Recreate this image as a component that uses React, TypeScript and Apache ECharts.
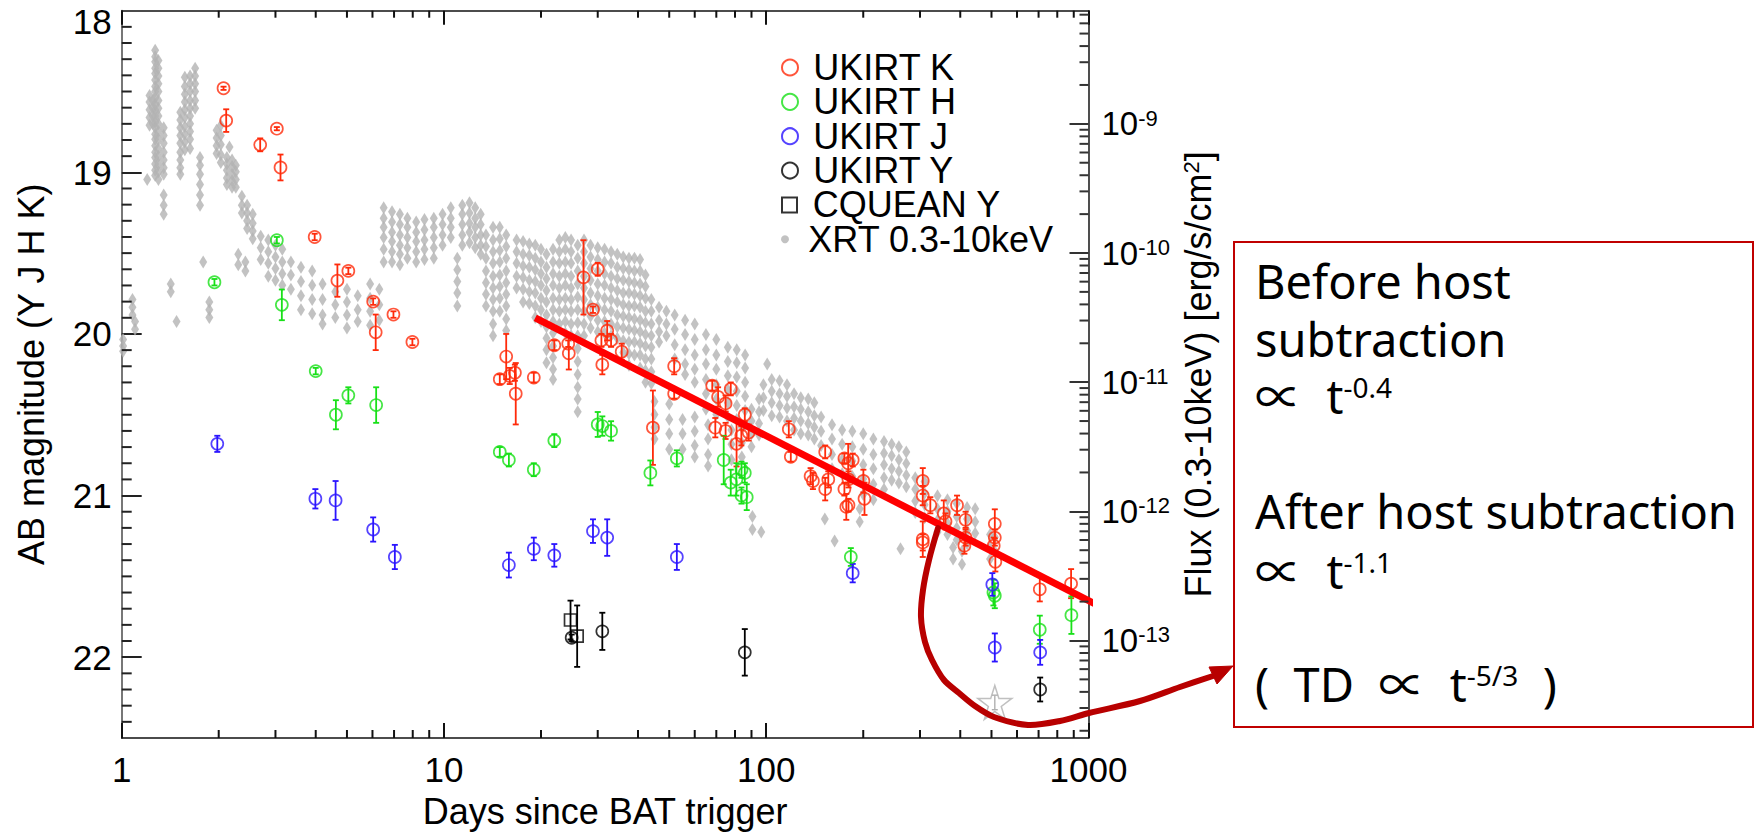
import React, { useEffect, useRef } from 'react';
import * as echarts from 'echarts';

// ---------- axes ----------
const xMajorTicks = [1, 10, 100, 1000];
const xMinorTicks = [2, 3, 4, 5, 6, 7, 8, 9, 20, 30, 40, 50, 60, 70, 80, 90, 200, 300, 400, 500, 600, 700, 800, 900];
const magLabels = [18, 19, 20, 21, 22];
const magMajorTicks = [19, 20, 21, 22];
const magRange = [18, 22.5];
const fluxMajorTicks = [1e-13, 1e-12, 1e-11, 1e-10, 1e-9];
const fluxRangeLog = [-13.755, -8.124];

// ---------- data: [days, AB mag, error] ----------
const ukirtK = [
  [2.07, 18.48, 0.01], [2.11, 18.68, 0.07], [2.69, 18.83, 0.04], [3.03, 18.73, 0.01], [3.11, 18.97, 0.08],
  [3.97, 19.4, 0.02], [4.67, 19.67, 0.1], [5.05, 19.61, 0.02], [6.03, 19.8, 0.02], [6.14, 19.99, 0.11],
  [6.97, 19.88, 0.02], [7.98, 20.05, 0.02],
  [14.9, 20.28, 0.03], [15.6, 20.14, 0.14], [16.0, 20.26, 0.05], [16.6, 20.24, 0.05], [16.7, 20.37, 0.19],
  [19.0, 20.27, 0.03], [22.0, 20.07, 0.03], [24.3, 20.06, 0.02], [24.4, 20.12, 0.1], [27.1, 19.65, 0.23],
  [29.0, 19.85, 0.02], [30.0, 19.6, 0.04], [30.8, 20.04, 0.04], [32.1, 19.98, 0.06], [33.0, 20.04, 0.04],
  [31.0, 20.19, 0.06], [35.6, 20.11, 0.05], [44.5, 20.58, 0.23], [51.8, 20.2, 0.05], [51.8, 20.37, 0.03],
  [68.0, 20.32, 0.03], [69.5, 20.58, 0.06], [70.9, 20.39, 0.06], [74.8, 20.43, 0.05], [74.8, 20.6, 0.05],
  [77.6, 20.34, 0.04], [80.9, 20.68, 0.14], [83.7, 20.63, 0.06], [85.8, 20.5, 0.04], [88.2, 20.61, 0.05],
  [117.5, 20.59, 0.05], [119.2, 20.76, 0.03], [137.3, 20.88, 0.05], [139.6, 20.91, 0.05], [152.4, 20.73, 0.04],
  [152.4, 20.96, 0.07], [155.8, 20.9, 0.05], [174.8, 20.77, 0.03], [174.8, 20.96, 0.04], [177.2, 21.07, 0.08],
  [179.6, 20.8, 0.12], [180, 20.9, 0.05], [185.5, 20.78, 0.04], [180, 21.06, 0.04], [200.2, 20.91, 0.07],
  [201.8, 21.02, 0.1], [306, 20.91, 0.08], [306, 21.0, 0.06], [323, 21.06, 0.05], [306, 21.27, 0.11],
  [306, 21.29, 0.05], [355.5, 21.11, 0.08], [360, 21.16, 0.05], [390.9, 21.06, 0.06], [415.5, 21.15, 0.05],
  [415.5, 21.26, 0.05], [412, 21.31, 0.05], [512, 21.175, 0.09], [512, 21.26, 0.05], [508, 21.31, 0.05],
  [514, 21.41, 0.06], [706, 21.58, 0.075], [883, 21.545, 0.09],
];
const ukirtH = [
  [1.94, 19.68, 0.02], [3.03, 19.42, 0.02], [3.14, 19.82, 0.095], [4.0, 20.23, 0.02], [5.05, 20.38, 0.05],
  [4.62, 20.5, 0.09], [6.16, 20.44, 0.11], [14.9, 20.73, 0.03], [15.9, 20.78, 0.04], [19.0, 20.84, 0.04],
  [22.0, 20.66, 0.04], [30.0, 20.56, 0.077], [31.0, 20.57, 0.06], [33.0, 20.6, 0.06], [43.7, 20.86, 0.077],
  [52.8, 20.77, 0.05], [73.8, 20.78, 0.15], [77.6, 20.92, 0.08], [80.8, 20.9, 0.1], [83.8, 20.84, 0.05],
  [85.8, 20.86, 0.06], [83.8, 21.0, 0.05], [87.0, 21.01, 0.08], [183, 21.38, 0.055], [507, 21.6, 0.08],
  [512, 21.62, 0.077], [706, 21.83, 0.087], [885, 21.74, 0.116],
];
const ukirtJ = [
  [1.98, 20.68, 0.05], [3.99, 21.02, 0.06], [4.61, 21.03, 0.12], [6.03, 21.21, 0.075], [7.04, 21.38, 0.075],
  [15.9, 21.43, 0.077], [19.0, 21.33, 0.07], [22.0, 21.37, 0.07], [29.0, 21.22, 0.073], [32.1, 21.26, 0.113],
  [52.8, 21.38, 0.08], [185.5, 21.48, 0.057], [503, 21.55, 0.07], [512, 21.94, 0.087], [708, 21.97, 0.077],
];
const ukirtY = [
  [24.9, 21.88, 0.02], [31.0, 21.84, 0.115], [85.8, 21.97, 0.144], [708, 22.2, 0.074],
];
const cqueanY = [
  [24.7, 21.77, 0.12], [25.9, 21.87, 0.19],
];
const hostStar = [[512, 22.28, 0.045]];
const fitLine = [[19.2, 19.9], [1047, 21.67]];

// ---------- XRT 0.3-10 keV: [days, log10 flux, log10 flux, ...] ----------
const xrtColumns = [
  [1.01, -10.67, -10.72, -10.76], [1.08, -10.36, -10.42, -10.48], [1.1, -10.53, -10.59], [1.2, -9.43],
  [1.22, -8.78, -8.83, -8.89, -8.95, -9.01], [1.25, -8.82, -8.88, -8.94, -9.0],
  [1.27, -8.43, -8.48, -8.52, -8.57, -8.61, -8.66, -8.71, -8.75, -8.8, -8.85, -8.89, -8.94, -8.99, -9.03, -9.08, -9.12, -9.17, -9.22, -9.26, -9.31, -9.36, -9.4],
  [1.3, -8.51, -8.57, -8.63, -8.69, -8.75, -8.82, -8.88, -8.94, -9.0, -9.06, -9.12, -9.19, -9.25, -9.31, -9.37, -9.43],
  [1.35, -9.03, -9.09, -9.15, -9.22, -9.28, -9.34, -9.39, -9.55, -9.63, -9.7],
  [1.42, -10.24, -10.3], [1.48, -10.53],
  [1.52, -8.91, -8.97, -9.03, -9.09, -9.15, -9.22, -9.28, -9.34, -9.39],
  [1.57, -8.64, -8.71, -8.77, -8.83, -8.89, -8.95, -9.02, -9.08, -9.14, -9.2],
  [1.63, -8.63, -8.69, -8.75, -8.82, -8.88, -8.94, -9.0, -9.06, -9.12, -9.19],
  [1.69, -8.57, -8.63, -8.69, -8.75, -8.82, -8.88],
  [1.75, -9.26, -9.32, -9.39, -9.47, -9.55, -9.63], [1.79, -10.07], [1.87, -10.38, -10.44, -10.5],
  [1.97, -9.05, -9.11, -9.17, -9.23], [2.03, -9.01, -9.09, -9.16, -9.24, -9.3],
  [2.12, -9.26, -9.31, -9.36, -9.42, -9.47], [2.16, -9.18], [2.2, -9.28, -9.33, -9.39, -9.44, -9.49],
  [2.26, -9.32, -9.37, -9.43, -9.49], [2.3, -10.01, -10.09], [2.36, -9.56, -9.63, -9.69], [2.42, -10.07, -10.14],
  [2.45, -9.63, -9.69, -9.75, -9.81], [2.55, -9.7, -9.77, -9.83, -9.89], [2.7, -9.87, -9.96, -10.05],
  [2.85, -9.9, -9.99, -10.08, -10.18], [3.0, -9.94, -10.03, -10.12, -10.21], [3.15, -9.97, -10.07, -10.16, -10.25],
  [3.35, -10.07, -10.17, -10.28], [3.6, -10.11, -10.22, -10.33, -10.44], [3.9, -10.14, -10.25, -10.36, -10.47],
  [4.2, -10.24, -10.36, -10.48, -10.55], [4.6, -10.3, -10.4, -10.5], [5.0, -10.28, -10.38, -10.48, -10.58],
  [5.4, -10.33, -10.44, -10.53], [5.9, -10.24, -10.35, -10.45, -10.56], [6.3, -10.28, -10.4, -10.52],
  [6.5, -9.65, -9.73, -9.8, -9.88, -9.97, -10.07], [6.9, -9.68, -9.76, -9.84, -9.91, -9.99, -10.07],
  [7.3, -9.7, -9.78, -9.86, -9.94, -10.01, -10.09], [7.7, -9.73, -9.8, -9.88, -9.96, -10.04],
  [8.2, -9.76, -9.84, -9.91, -9.99, -10.07], [8.7, -9.74, -9.82, -9.9, -9.97, -10.05],
  [9.3, -9.73, -9.8, -9.88, -9.96, -10.04], [9.9, -9.7, -9.78, -9.86, -9.94], [10.5, -9.65, -9.73, -9.8, -9.88],
  [11.0, -10.04, -10.13, -10.22, -10.31, -10.41],
  [11.4, -9.63, -9.7, -9.78, -9.86, -9.94], [12.0, -9.61, -9.69, -9.77, -9.84, -9.92],
  [12.5, -9.65, -9.73, -9.8, -9.88, -9.96], [13.0, -9.7, -9.78, -9.86, -9.94, -10.01],
  [13.5, -9.86, -9.95, -10.04, -10.14, -10.23, -10.32, -10.41],
  [14.2, -9.8, -9.9, -9.99, -10.08, -10.18, -10.27, -10.36, -10.45, -10.55, -10.64],
  [14.9, -9.8, -9.89, -9.98, -10.07, -10.17, -10.26, -10.35, -10.45],
  [15.6, -9.86, -9.95, -10.04, -10.14, -10.23, -10.32, -10.41, -10.51, -10.6],
  [16.8, -9.9, -9.99, -10.08, -10.18, -10.27], [17.6, -9.91, -10.01, -10.1, -10.19, -10.28, -10.38],
  [18.4, -9.93, -10.02, -10.11, -10.21, -10.3, -10.39], [19.2, -9.94, -10.04, -10.13, -10.22, -10.31, -10.41, -10.5],
  [20.0, -9.97, -10.07, -10.16, -10.25, -10.35, -10.44, -10.53],
  [20.8, -10.01, -10.11, -10.2, -10.29, -10.38, -10.48, -10.57, -10.66, -10.75, -10.85],
  [21.8, -9.97, -10.07, -10.16, -10.25, -10.35, -10.44, -10.53, -10.62, -10.72, -10.81, -10.9, -10.98],
  [22.8, -9.9, -9.99, -10.08, -10.18, -10.27, -10.36, -10.45, -10.55],
  [23.8, -9.88, -9.97, -10.07, -10.16, -10.25, -10.35, -10.44, -10.53, -10.62],
  [24.8, -9.9, -9.99, -10.08, -10.18, -10.27, -10.36, -10.45, -10.55, -10.64],
  [26.0, -9.94, -10.04, -10.14, -10.24, -10.34, -10.44, -10.54, -10.64, -10.74, -10.84, -10.94, -11.04, -11.13, -11.23],
  [27.2, -9.9, -9.99, -10.08, -10.18, -10.27, -10.36, -10.45, -10.55, -10.64],
  [28.5, -9.94, -10.03, -10.12, -10.21, -10.31, -10.4, -10.49, -10.58],
  [30.0, -9.96, -10.05, -10.14, -10.24, -10.33, -10.42, -10.52, -10.61],
  [31.5, -9.97, -10.07, -10.16, -10.25, -10.35, -10.44, -10.53, -10.62],
  [33.0, -9.99, -10.08, -10.18, -10.27, -10.36, -10.45, -10.55, -10.64],
  [34.5, -10.01, -10.11, -10.2, -10.29, -10.38, -10.48, -10.57, -10.66],
  [36.0, -10.03, -10.12, -10.21, -10.31, -10.4, -10.49, -10.58, -10.68, -10.77],
  [37.5, -10.04, -10.13, -10.22, -10.31, -10.41, -10.5, -10.59, -10.69, -10.78, -10.87],
  [39.0, -10.04, -10.14, -10.23, -10.32, -10.41, -10.51, -10.6, -10.69, -10.79],
  [40.6, -10.05, -10.14, -10.24, -10.33, -10.42, -10.52, -10.61, -10.7, -10.79, -10.89],
  [42.2, -10.17, -10.26, -10.35, -10.45, -10.54, -10.63, -10.72, -10.82, -10.91, -11.0],
  [44.0, -10.36, -10.45, -10.55, -10.64, -10.73, -10.82, -10.92, -11.01],
  [45.0, -11.15, -11.25, -11.35, -11.44], [46.5, -10.42, -10.52, -10.61, -10.69], [49.0, -10.45, -10.55, -10.64],
  [50.0, -11.17, -11.29, -11.4, -11.52], [52.0, -10.48, -10.59, -10.71, -10.82], [55.0, -11.29, -11.4, -11.52],
  [56.0, -10.52, -10.63, -10.75, -10.86, -10.94],
  [60.0, -10.55, -10.67, -10.79, -10.9, -11.0, -11.27, -11.38, -11.49, -11.58],
  [65.0, -10.63, -10.75, -10.86, -10.98, -11.09, -11.21], [66.0, -11.33, -11.44, -11.56, -11.65],
  [70.0, -10.67, -10.79, -10.9, -11.02, -11.13, -11.25], [76.0, -10.73, -10.84, -10.95, -11.06, -11.16, -11.27],
  [78.0, -11.37, -11.48, -11.6], [81.0, -10.75, -10.85, -10.96, -11.07, -11.18, -11.29], [84.0, -11.35, -11.47, -11.58],
  [86.0, -10.79, -10.89, -11.0, -11.11, -11.22, -11.33], [90.0, -11.21, -11.3, -11.4, -11.5], [90.6, -12.04, -12.14],
  [95.0, -11.13, -11.23, -11.32, -11.41], [96.5, -12.16], [98.0, -11.02, -11.12, -11.22], [100.7, -10.86],
  [104, -10.98, -11.07, -11.16, -11.26], [110, -10.99, -11.09, -11.18, -11.27], [116, -11.02, -11.11, -11.2, -11.3],
  [122, -11.09, -11.19, -11.28, -11.37], [128, -11.12, -11.21, -11.3, -11.4], [135, -11.13, -11.23, -11.32, -11.41],
  [141, -11.16, -11.26, -11.35, -11.44], [148, -11.27, -11.38, -11.49], [152, -12.06], [160, -11.33, -11.44, -11.56, -11.67],
  [163, -12.23], [172, -11.37, -11.48, -11.6, -11.71], [185, -11.38, -11.5, -11.61, -11.73], [195, -11.98, -12.08],
  [200, -11.4, -11.52, -11.64, -11.75, -11.87], [215, -11.44, -11.56, -11.67, -11.79, -11.91],
  [232, -11.46, -11.55, -11.64, -11.74, -11.83], [245, -11.48, -11.57, -11.67, -11.76], [258, -11.5, -11.6, -11.69, -11.78],
  [261, -12.29], [272, -11.54, -11.63, -11.72, -11.81], [290, -11.74, -11.83, -11.92, -12.01],
  [310, -11.77, -11.86, -11.95, -12.05], [340, -11.88, -11.98, -12.07, -12.16], [365, -11.91, -12.0, -12.09, -12.18],
  [380, -12.28, -12.37], [390, -11.94, -12.04, -12.13, -12.22], [405, -12.31, -12.41],
  [420, -11.97, -12.06, -12.15, -12.25], [445, -11.98, -12.08, -12.17], [495, -12.18, -12.28, -12.37], [512, -12.2, -12.31],
];

// ---------- legend rows ----------
const legendNames = ['UKIRT K', 'UKIRT H', 'UKIRT J', 'UKIRT Y', 'CQUEAN Y', 'XRT 0.3-10keV'];

// ---------- annotation ----------
const arrowPoints = [
  [938, 528], [929, 560], [923, 590], [921, 617], [925, 642], [932, 660], [944, 680], [959, 693], [975, 706],
  [994, 717], [1028, 725], [1060, 721], [1089, 713], [1140, 701], [1180, 687], [1213, 676],
];
const arrowHead = [[1233, 666], [1217, 684], [1209, 667]];

const AXIS_FONT = "'Liberation Sans', Arial, Helvetica, sans-serif";
const NOTE_FONT = "'Noto Sans', 'Noto Sans CJK KR', sans-serif";
const COLORS = { K: '#ff2a0a', H: '#18e018', J: '#2a14ff', Y: '#000000', XRT: '#b3b3b3' };
const SQUARE = 'path://M0,0 L10,0 L10,10 L0,10 Z';
const TICK_W = 2;

function errSeries(name: string, data: number[][], color: string, lw = 1.8) {
  return {
    type: 'custom', name, xAxisIndex: 0, yAxisIndex: 0, z: 3, silent: true,
    data, encode: { x: 0, y: 1 },
    renderItem: (params: any, api: any) => {
      const t = api.value(0), m = api.value(1), e = api.value(2);
      const p1 = api.coord([t, m - e]);
      const p2 = api.coord([t, m + e]);
      const w = 3;
      const st = { stroke: color, lineWidth: lw };
      return {
        type: 'group', children: [
          { type: 'line', shape: { x1: p1[0], y1: p1[1], x2: p2[0], y2: p2[1] }, style: st },
          { type: 'line', shape: { x1: p1[0] - w, y1: p1[1], x2: p1[0] + w, y2: p1[1] }, style: st },
          { type: 'line', shape: { x1: p2[0] - w, y1: p2[1], x2: p2[0] + w, y2: p2[1] }, style: st },
        ],
      };
    },
  };
}

// inward IDL-style axis ticks, placed through the axes' own scales
function xTickSeries(values: number[], lenBottom: number, lenTop: number) {
  return {
    type: 'custom', xAxisIndex: 0, yAxisIndex: 0, z: 10,
    data: values.map((v) => [v, 20]), encode: { x: 0, y: 1 },
    renderItem: (params: any, api: any) => {
      const t = api.value(0);
      const top = api.coord([t, magRange[0]]);
      const bot = api.coord([t, magRange[1]]);
      const st = { stroke: '#111', lineWidth: TICK_W };
      return {
        type: 'group', children: [
          { type: 'line', shape: { x1: top[0], y1: bot[1], x2: top[0], y2: bot[1] - lenBottom }, style: st },
          { type: 'line', shape: { x1: top[0], y1: top[1], x2: top[0], y2: top[1] + lenTop }, style: st },
        ],
      };
    },
  };
}
function magTickSeries(values: number[], len: number) {
  return {
    type: 'custom', xAxisIndex: 0, yAxisIndex: 0, z: 10,
    data: values.map((v) => [1, v]), encode: { x: 0, y: 1 },
    renderItem: (params: any, api: any) => {
      const p = api.coord([1, api.value(1)]);
      return { type: 'line', shape: { x1: p[0], y1: p[1], x2: p[0] + len, y2: p[1] }, style: { stroke: '#222', lineWidth: TICK_W } };
    },
  };
}
function fluxTickSeries(values: number[], len: number) {
  return {
    type: 'custom', xAxisIndex: 0, yAxisIndex: 1, z: 10,
    data: values.map((v) => [1000, v]), encode: { x: 0, y: 1 },
    renderItem: (params: any, api: any) => {
      const p = api.coord([1000, api.value(1)]);
      return { type: 'line', shape: { x1: p[0], y1: p[1], x2: p[0] - len, y2: p[1] }, style: { stroke: '#333', lineWidth: TICK_W } };
    },
  };
}

function markSeries(name: string, data: number[][], color: string, symbol = 'circle', size = 12) {
  return {
    type: 'scatter', name, xAxisIndex: 0, yAxisIndex: 0, z: 4,
    data: data.map((d) => [d[0], d[1]]), symbol, symbolSize: size,
    itemStyle: { color: 'rgba(0,0,0,0)', borderColor: color, borderWidth: 1.7 },
    emphasis: { disabled: true },
  };
}

function buildOption() {
  const magMinor: number[] = [];
  for (let v = 181; v <= 224; v++) if (v % 10 !== 0) magMinor.push(v / 10);
  const fMin = Math.pow(10, fluxRangeLog[0]);
  const fMax = Math.pow(10, fluxRangeLog[1]);
  const fluxMinor: number[] = [];
  for (let d = -14; d <= -9; d++) {
    for (let k = 2; k <= 9; k++) {
      const v = Number((k * Math.pow(10, d)).toPrecision(3));
      if (v > fMin && v < fMax) fluxMinor.push(v);
    }
  }
  const xrtData: number[][] = [];
  xrtColumns.forEach((col) => {
    for (let i = 1; i < col.length; i++) xrtData.push([col[0], Math.pow(10, col[i])]);
  });

  const legends = legendNames.map((name, i) => ({
    orient: 'vertical', left: 781, top: 49.5 + 34.35 * i, padding: 0, itemGap: 0,
    itemWidth: 36.6, itemHeight: i === 5 ? 8 : (i === 4 ? 15 : 16), selectedMode: false,
    textStyle: { fontSize: 36, fontFamily: AXIS_FONT, color: '#000', lineHeight: 34 },
    data: i === 5 ? [{ name, icon: 'circle' }] : [name],
  }));

  return {
    animation: false,
    grid: { left: 121.7, top: 10.7, width: 966.8, height: 728.6 },
    legend: legends,
    xAxis: [
      {
        type: 'log', logBase: 10, min: 1, max: 1000, position: 'bottom',
        splitLine: { show: false },
        axisLine: { show: true, lineStyle: { color: '#111', width: 1.6 } },
        axisTick: { show: true, inside: true, length: 15, customValues: xMajorTicks, lineStyle: { color: '#111', width: TICK_W } },
        axisLabel: {
          show: true, customValues: xMajorTicks, margin: 14, fontSize: 35, fontFamily: AXIS_FONT, color: '#000',
          formatter: (v: number) => String(Math.round(v)),
        },
        name: 'Days since BAT trigger', nameLocation: 'middle', nameGap: 55,
        nameTextStyle: { fontSize: 36, fontFamily: AXIS_FONT, color: '#000' },
      },
      {
        type: 'log', logBase: 10, min: 1, max: 1000, position: 'top',
        splitLine: { show: false },
        axisLine: { show: true, lineStyle: { color: '#111', width: 1.6 } },
        axisTick: { show: true, inside: true, length: 14, customValues: xMajorTicks, lineStyle: { color: '#111', width: TICK_W } },
        axisLabel: { show: false },
      },
    ],
    yAxis: [
      {
        type: 'value', min: magRange[0], max: magRange[1], inverse: true, position: 'left',
        splitLine: { show: false },
        axisLine: { show: true, lineStyle: { color: '#777', width: 2 } },
        axisTick: { show: true, inside: true, length: 20, customValues: magMajorTicks, lineStyle: { color: '#222', width: TICK_W } },
        axisLabel: {
          show: true, customValues: magLabels, margin: 10, fontSize: 35, fontFamily: AXIS_FONT, color: '#000',
          formatter: (v: number) => (v === 18 ? '{t|18}' : '{n|' + v + '}'),
          rich: {
            t: { fontSize: 35, fontFamily: AXIS_FONT, color: '#000', padding: [22, 0, 0, 0] },
            n: { fontSize: 35, fontFamily: AXIS_FONT, color: '#000' },
          },
        },
        name: 'AB magnitude (Y J H K)', nameLocation: 'middle', nameGap: 72,
        nameTextStyle: { fontSize: 36, fontFamily: AXIS_FONT, color: '#000' },
      },
      {
        type: 'log', logBase: 10, min: fMin, max: fMax, position: 'right',
        splitLine: { show: false },
        axisLine: { show: true, lineStyle: { color: '#222', width: 1.6 } },
        axisTick: { show: true, inside: true, length: 19, customValues: fluxMajorTicks, lineStyle: { color: '#333', width: TICK_W } },
        axisLabel: {
          show: true, customValues: fluxMajorTicks, margin: 13,
          formatter: (v: number) => '{b|10}{s|' + Math.round(Math.log10(v)) + '}',
          rich: {
            b: { fontSize: 33, fontFamily: AXIS_FONT, color: '#000', lineHeight: 33 },
            s: { fontSize: 22, fontFamily: AXIS_FONT, color: '#000', lineHeight: 12, verticalAlign: 'top' },
          },
        },
        name: '{a|Flux (0.3-10keV) [erg/s/cm}{s|2}{a|]}', nameLocation: 'middle', nameGap: 68,
        nameTextStyle: {
          rich: {
            a: { fontSize: 36, fontFamily: AXIS_FONT, color: '#000', lineHeight: 36 },
            s: { fontSize: 22, fontFamily: AXIS_FONT, color: '#000', lineHeight: 14, verticalAlign: 'top' },
          },
        },
      },
    ],
    series: [
      xTickSeries(xMinorTicks, 8, 7),
      magTickSeries(magMinor, 10),
      fluxTickSeries(fluxMinor, 9),
      {
        type: 'scatter', name: 'XRT 0.3-10keV', xAxisIndex: 0, yAxisIndex: 1, z: 1,
        data: xrtData, symbol: 'diamond', symbolSize: [8, 13],
        itemStyle: { color: COLORS.XRT }, emphasis: { disabled: true }, silent: true,
      },
      errSeries('K err', ukirtK, COLORS.K),
      errSeries('H err', ukirtH, COLORS.H),
      errSeries('J err', ukirtJ, COLORS.J),
      errSeries('Y err', ukirtY, COLORS.Y),
      errSeries('CQ err', cqueanY, COLORS.Y),
      errSeries('star err', hostStar, '#b0b0b0', 1.4),
      markSeries('UKIRT K', ukirtK, COLORS.K),
      markSeries('UKIRT H', ukirtH, COLORS.H),
      markSeries('UKIRT J', ukirtJ, COLORS.J),
      markSeries('UKIRT Y', ukirtY, COLORS.Y),
      markSeries('CQUEAN Y', cqueanY, COLORS.Y, SQUARE, 12),
      {
        type: 'scatter', name: 'host', xAxisIndex: 0, yAxisIndex: 0, z: 4,
        data: hostStar.map((d) => [d[0], d[1]]),
        symbol: 'path://M50,2 L61.8,38.2 L99,38.2 L68.6,60.4 L80.3,96.6 L50,74.4 L19.7,96.6 L31.4,60.4 L1,38.2 L38.2,38.2 Z',
        symbolSize: 34,
        itemStyle: { color: 'rgba(0,0,0,0)', borderColor: '#b0b0b0', borderWidth: 1.5 },
        emphasis: { disabled: true },
      },
      {
        type: 'line', name: 'fit', xAxisIndex: 0, yAxisIndex: 0, z: 5, data: fitLine,
        symbol: 'none', clip: false, lineStyle: { color: '#ff0000', width: 7 }, silent: true,
      },
    ],
    graphic: [
      { type: 'rect', shape: { x: 1234, y: 242, width: 519, height: 485 }, style: { fill: 'none', stroke: '#c00000', lineWidth: 2 }, z: 50 },
      { type: 'text', x: 1255, y: 281, z: 50, style: { text: 'Before host', fontSize: 47, fontFamily: NOTE_FONT, fill: '#000', verticalAlign: 'middle' } },
      { type: 'text', x: 1255, y: 339, z: 50, style: { text: 'subtraction', fontSize: 47, fontFamily: NOTE_FONT, fill: '#000', verticalAlign: 'middle' } },
      {
        type: 'text', x: 1255, y: 396, z: 50,
        style: {
          text: '{b|\u221d  t}{s|-0.4}', verticalAlign: 'middle',
          rich: {
            b: { fontSize: 47, fontFamily: NOTE_FONT, fill: '#000', lineHeight: 47 },
            s: { fontSize: 28, fontFamily: NOTE_FONT, fill: '#000', lineHeight: 35, verticalAlign: 'top' },
          },
        },
      },
      { type: 'text', x: 1255, y: 511, z: 50, style: { text: 'After host subtraction', fontSize: 47, fontFamily: NOTE_FONT, fill: '#000', verticalAlign: 'middle' } },
      {
        type: 'text', x: 1255, y: 571, z: 50,
        style: {
          text: '{b|\u221d  t}{s|-1.1}', verticalAlign: 'middle',
          rich: {
            b: { fontSize: 47, fontFamily: NOTE_FONT, fill: '#000', lineHeight: 47 },
            s: { fontSize: 28, fontFamily: NOTE_FONT, fill: '#000', lineHeight: 35, verticalAlign: 'top' },
          },
        },
      },
      {
        type: 'text', x: 1255, y: 684, z: 50,
        style: {
          text: '{b|(  TD  \u221d  t}{s|-5/3}{b|  )}', verticalAlign: 'middle',
          rich: {
            b: { fontSize: 47, fontFamily: NOTE_FONT, fill: '#000', lineHeight: 47 },
            s: { fontSize: 28, fontFamily: NOTE_FONT, fill: '#000', lineHeight: 35, verticalAlign: 'top' },
          },
        },
      },
      {
        type: 'polyline', z: 60, shape: { points: arrowPoints, smooth: 0.3 },
        style: { stroke: '#b80000', lineWidth: 6, fill: 'none', lineCap: 'round' },
      },
      { type: 'polygon', z: 60, shape: { points: arrowHead }, style: { fill: '#b80000', stroke: '#b80000', lineWidth: 1 } },
    ],
  };
}

export default function App() {
  const ref = useRef<HTMLDivElement>(null);
  useEffect(() => {
    document.body.style.margin = '0';
    const chart = echarts.init(ref.current as HTMLDivElement, undefined, { renderer: 'svg' });
    chart.setOption(buildOption() as any);
    return () => chart.dispose();
  }, []);
  return (
    <div
      ref={ref}
      style={{ position: 'fixed', left: 0, top: 0, width: 1762, height: 834, background: '#fff' }}
    />
  );
}
